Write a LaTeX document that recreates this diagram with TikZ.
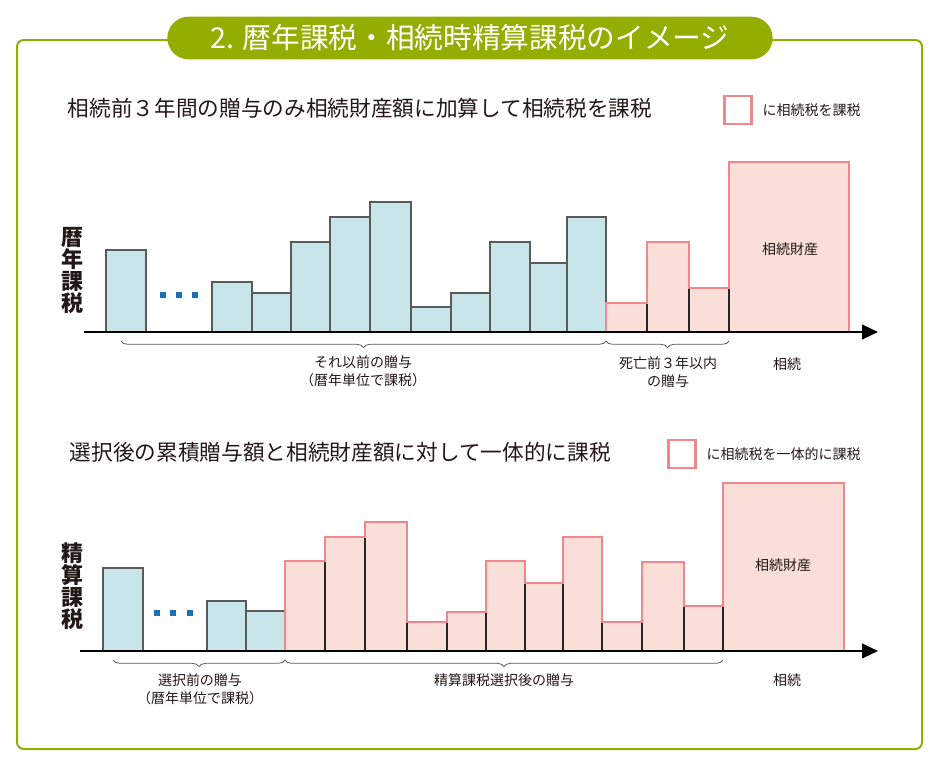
\documentclass[tikz,border=0pt]{standalone}
\usepackage{fontspec}
\setmainfont{Noto Sans CJK JP}
\usetikzlibrary{arrows.meta,decorations.pathreplacing}

\definecolor{framegreen}{RGB}{147,173,0}
\definecolor{barblue}{RGB}{200,230,233}
\definecolor{bargray}{RGB}{90,90,90}
\definecolor{pinkfill}{RGB}{250,222,216}
\definecolor{pinkline}{RGB}{240,135,138}
\definecolor{dotblue}{RGB}{30,110,180}
\definecolor{textdark}{RGB}{35,24,21}

\tikzset{
  bluebar/.style={fill=barblue,draw=bargray,line width=0.9pt},
  pinkbar/.style={fill=pinkfill,draw=black!85,line width=0.8pt},
  pinkedge/.style={draw=pinkline,line width=2.2pt,line join=miter},
  axisline/.style={line width=1.6pt,-{Triangle[length=12pt,width=11pt]}},
  gapdot/.style={fill=dotblue,minimum size=4pt,inner sep=0pt},
  brc/.style={draw=bargray,line width=0.6pt,decorate,decoration={brace,mirror,amplitude=5pt}},
  heading/.style={anchor=west,text=textdark,font=\fontsize{16.25}{18}\selectfont},
  sidelabel/.style={text=textdark,align=center,font=\fontsize{16.5}{16.5}\selectfont\bfseries},
  small/.style={text=textdark,align=center,font=\fontsize{10.5}{13.5}\selectfont},
  legendbox/.style={draw=pinkline,line width=2pt,minimum width=20.5pt,minimum height=21pt,inner sep=0pt}
}

\begin{document}
\begin{tikzpicture}[x=0.75pt,y=-0.75pt]
  \useasboundingbox (0,0) rectangle (940,771);
  \draw[framegreen,line width=1.5pt,rounded corners=5pt] (17,40) rectangle (922,749);
  \node[fill=framegreen,text=white,rounded corners=16pt,minimum width=454pt,minimum height=32pt,
        font=\fontsize{21.5}{22}\selectfont] (title) at (470,38) {2. 暦年課税・相続時精算課税のイメージ};

  % upper chart: calendar-year taxation
  \node[heading] (headA) at (63,108) {相続前３年間の贈与のみ相続財産額に加算して相続税を課税};
  \node[legendbox] (keyA) at (738,110) {};
  \node[small,anchor=west] (keyAtext) at (758,110) {に相続税を課税};
  \node[sidelabel] (sideA) at (72,270) {暦\\年\\課\\税};
  \foreach \a/\b/\t in {106/146/250, 212/252/282, 252/291/293, 291/330/242, 330/370/217,
                        370/411/202, 411/451/307, 451/490/293, 490/530/242, 530/567/263, 567/606/217}{
    \draw[bluebar] (\a,332) rectangle (\b,\t);
  }
  \foreach \a/\b/\t in {606/647/303, 647/689/242, 689/729/288, 729/849/162}{
    \draw[pinkbar] (\a,332) rectangle (\b,\t);
  }
  \draw[pinkedge] (606,332) foreach \a/\b/\t in {606/647/303, 647/689/242, 689/729/288, 729/849/162}{
    -- (\a,\t) -- (\b,\t) } -- (849,332);
  \foreach \x in {163,179,195}{
    \node[gapdot] at (\x,295) {};
  }
  \coordinate (axAstart) at (84,332);
  \coordinate (axAend) at (878,332);
  \draw[axisline] (axAstart) -- (axAend);
  \node[small] (estateA) at (790,249) {相続財産};
  \coordinate (bA0) at (121,341);
  \coordinate (bA1) at (606,341);
  \coordinate (bA2) at (729,341);
  \draw[brc] (bA0) -- (bA1);
  \draw[brc] (bA1) -- (bA2);
  \node[small] (earlierA) at (363,371) {それ以前の贈与\\（暦年単位で課税）};
  \node[small] (lastA) at (668,372) {死亡前３年以内\\の贈与};
  \node[small] (inheritA) at (787,364) {相続};

  % lower chart: settlement taxation
  \node[heading] (headB) at (65,452) {選択後の累積贈与額と相続財産額に対して一体的に課税};
  \node[legendbox] (keyB) at (682,454) {};
  \node[small,anchor=west] (keyBtext) at (702,454) {に相続税を一体的に課税};
  \node[sidelabel] (sideB) at (72,586) {精\\算\\課\\税};
  \foreach \a/\b/\t in {103/143/568, 207/246/601, 246/285/611}{
    \draw[bluebar] (\a,651) rectangle (\b,\t);
  }
  \foreach \a/\b/\t in {285/325/561, 325/365/537, 365/407/522, 407/447/622, 447/486/612, 486/525/561,
                        525/563/583, 563/602/537, 602/642/622, 642/684/562, 684/723/606, 723/844/483}{
    \draw[pinkbar] (\a,651) rectangle (\b,\t);
  }
  \draw[pinkedge] (285,651) foreach \a/\b/\t in {285/325/561, 325/365/537, 365/407/522, 407/447/622,
      447/486/612, 486/525/561, 525/563/583, 563/602/537, 602/642/622, 642/684/562, 684/723/606,
      723/844/483}{ -- (\a,\t) -- (\b,\t) } -- (844,651);
  \foreach \x in {157,173,190}{
    \node[gapdot] at (\x,613) {};
  }
  \coordinate (axBstart) at (80,651);
  \coordinate (axBend) at (878,651);
  \draw[axisline] (axBstart) -- (axBend);
  \node[small] (estateB) at (783,565) {相続財産};
  \coordinate (bB0) at (113,660);
  \coordinate (bB1) at (285,660);
  \coordinate (bB2) at (723,660);
  \draw[brc] (bB0) -- (bB1);
  \draw[brc] (bB1) -- (bB2);
  \node[small] (earlierB) at (200,689) {選択前の贈与\\（暦年単位で課税）};
  \node[small] (afterB) at (504,680) {精算課税選択後の贈与};
  \node[small] (inheritB) at (787,680) {相続};
\end{tikzpicture}
\end{document}
